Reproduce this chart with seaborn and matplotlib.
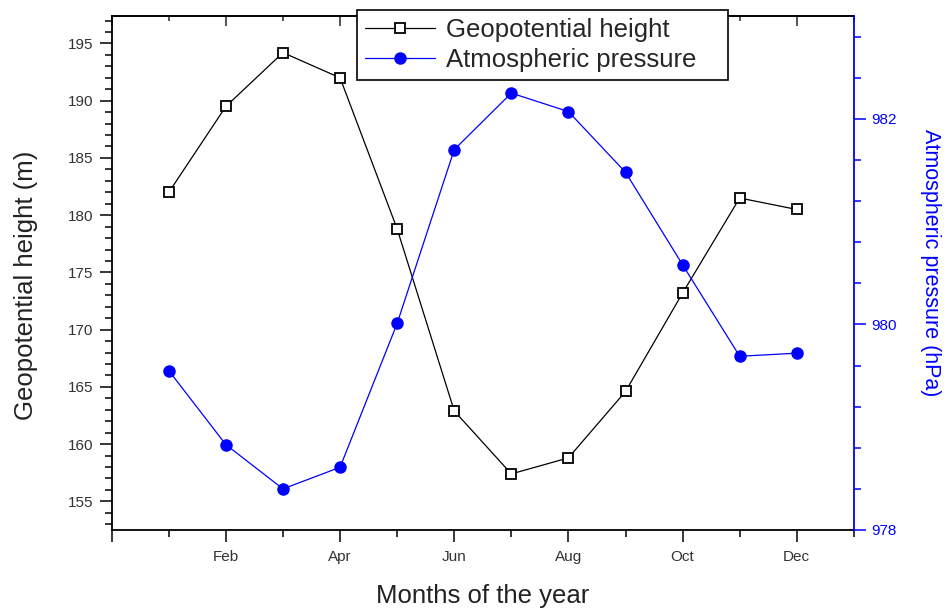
import numpy as np
import pandas as pd
import matplotlib
matplotlib.use("Agg")
import matplotlib.pyplot as plt
from matplotlib.ticker import MultipleLocator, FixedLocator
import seaborn as sns

# ========================
# DATA
# ========================
month_num   = [1, 2, 3, 4, 5, 6, 7, 8, 9, 10, 11, 12]
geo_height  = [182.0, 189.5, 194.2, 192.0, 178.8, 162.9,
               157.4, 158.8, 164.6, 173.2, 181.5, 180.5]
pressure    = [979.55, 978.83, 978.40, 978.61, 980.01, 981.70,
               982.25, 982.07, 981.48, 980.58, 979.69, 979.72]
month_ticks = [0, 2, 4, 6, 8, 10, 12]
month_lbls  = ["", "Feb", "Apr", "Jun", "Aug", "Oct", "Dec"]
odd_ticks   = [1, 3, 5, 7, 9, 11, 13]

df = pd.DataFrame({"month": month_num, "height": geo_height, "pressure": pressure})

# ========================
# STYLE
# ========================
sns.set_style("ticks")
plt.rcParams["font.family"] = ["Liberation Sans", "DejaVu Sans"]

BLUE = "#0000ff"
TICK_GRAY = "#333333"
TITLE_SIZE = 18.5

fig = plt.figure(figsize=(9.46, 6.08), dpi=100)
ax = fig.add_axes([0.1181, 0.1283, 0.7845, 0.8454])
ax2 = ax.twinx()

# ========================
# LINES
# ========================
sns.lineplot(data=df, x="month", y="height", ax=ax, color="black", lw=0.9,
             marker="s", ms=7.5, mfc="white", mec="black", mew=1.3,
             label="Geopotential height", legend=False)
sns.lineplot(data=df, x="month", y="pressure", ax=ax2, color=BLUE, lw=0.9,
             marker="o", ms=8, mfc=BLUE, mec=BLUE, mew=1,
             label="Atmospheric pressure", legend=False)

# ========================
# AXES
# ========================
ax.set_xlim(0, 13)
ax.set_ylim(152.5, 197.4)
ax2.set_ylim(978, 983)

ax.set_xticks(month_ticks)
ax.set_xticklabels(month_lbls)
ax.xaxis.set_minor_locator(FixedLocator(odd_ticks))
ax.yaxis.set_major_locator(MultipleLocator(5))
ax.yaxis.set_minor_locator(MultipleLocator(1))
ax2.yaxis.set_major_locator(MultipleLocator(2))
ax2.yaxis.set_minor_locator(MultipleLocator(0.4))

ax.tick_params(axis="both", which="major", direction="out", length=8.5, width=1.1,
               labelsize=11, labelcolor=TICK_GRAY, color="black")
ax.tick_params(axis="both", which="minor", direction="out", length=5, width=1.1, color="black")
ax.tick_params(axis="x", which="major", pad=6)
ax.tick_params(axis="y", which="major", pad=5)
ax.tick_params(axis="y", which="both", right=False)
ax.tick_params(axis="x", which="both", top=False)

ax2.tick_params(axis="y", which="major", direction="out", length=8.5, width=1.1,
                labelsize=11, labelcolor=BLUE, color=BLUE, pad=4)
ax2.tick_params(axis="y", which="minor", direction="out", length=5, width=1.1, color=BLUE)

# top axis: ticks pointing inward
top = ax.secondary_xaxis("top")
top.set_xticks(month_ticks)
top.set_xticklabels([])
top.xaxis.set_minor_locator(FixedLocator(odd_ticks))
top.tick_params(which="major", direction="in", length=7, width=1.1)
top.tick_params(which="minor", direction="in", length=3.3, width=1.1)
top.spines["top"].set_linewidth(1.3)

for s in ["left", "bottom", "top"]:
    ax.spines[s].set_color("black")
    ax.spines[s].set_linewidth(1.3)
ax.spines["right"].set_visible(False)
for s in ["left", "bottom", "top"]:
    ax2.spines[s].set_visible(False)
ax2.spines["right"].set_color(BLUE)
ax2.spines["right"].set_linewidth(1.3)

ax.set_xlabel("Months of the year", fontsize=TITLE_SIZE, color="#222222", labelpad=14)
ax.set_ylabel("Geopotential height (m)", fontsize=TITLE_SIZE, color="#222222")
ax.yaxis.set_label_coords(-0.099, 0.477)
ax2.set_ylabel("Atmospheric pressure (hPa)", fontsize=15.5, color=BLUE,
               rotation=270, va="bottom")
ax2.yaxis.set_label_coords(1.089, 0.52)

# ========================
# LEGEND
# ========================
h1, l1 = ax.get_legend_handles_labels()
h2, l2 = ax2.get_legend_handles_labels()
leg = fig.legend(h1 + h2, l1 + l2, loc="upper left", mode="expand",
                 bbox_to_anchor=(357 / 946, 1 - 82 / 608, 371 / 946, 72 / 608),
                 borderaxespad=0, fontsize=TITLE_SIZE, frameon=True, fancybox=False,
                 framealpha=1, edgecolor="black", borderpad=0.33, labelspacing=0.2,
                 handlelength=2.7, handletextpad=0.45)
leg.get_frame().set_linewidth(1.2)

fig.savefig("out.png", dpi=100)
